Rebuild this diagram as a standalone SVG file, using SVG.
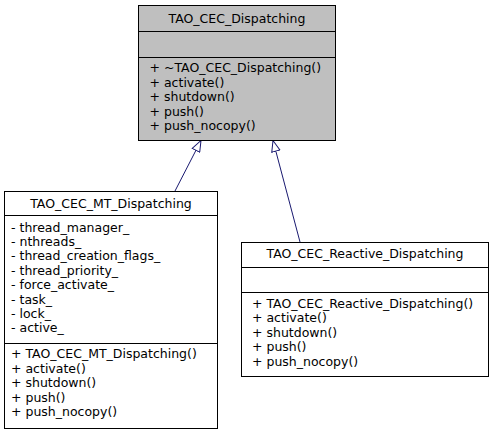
<svg xmlns="http://www.w3.org/2000/svg" width="492" height="435" viewBox="0 0 492 435">
<style>
text{font-family:"DejaVu Sans",sans-serif;font-size:12.5px;fill:#000}
.c{text-anchor:middle}
.box{stroke:#000;stroke-width:1;fill:#fff}
.gray{fill:#bfbfbf}
.edge{stroke:#191970;stroke-width:1;fill:none}
</style>
<defs>
<marker id="tri" viewBox="0 0 12 10" refX="11.5" refY="5" markerWidth="12" markerHeight="10" markerUnits="userSpaceOnUse" orient="auto">
<path d="M0.5,0.8 L11.5,5 L0.5,9.2 Z" fill="#fff" stroke="#191970" stroke-width="1"/>
</marker>
</defs>
<rect width="492" height="435" fill="#fff"/>
<g id="connectors">
<line class="edge" x1="175" y1="191" x2="201" y2="140.5" marker-end="url(#tri)"/>
<line class="edge" x1="300" y1="242" x2="273" y2="140.5" marker-end="url(#tri)"/>
</g>
<g id="TAO_CEC_Dispatching">
<rect class="box gray" x="138.5" y="5.5" width="197" height="135"/>
<line class="box" x1="138.5" y1="31.5" x2="335.5" y2="31.5"/>
<line class="box" x1="138.5" y1="57.5" x2="335.5" y2="57.5"/>
<text class="c" x="237" y="23">TAO_CEC_Dispatching</text>
<text x="149.5" y="72">+ ~TAO_CEC_Dispatching()</text>
<text x="149.5" y="86.5">+ activate()</text>
<text x="149.5" y="101">+ shutdown()</text>
<text x="149.5" y="115.5">+ push()</text>
<text x="149.5" y="130">+ push_nocopy()</text>
</g>
<g id="TAO_CEC_MT_Dispatching">
<rect class="box" x="4.5" y="191.5" width="213" height="237"/>
<line class="box" x1="4.5" y1="215.5" x2="217.5" y2="215.5"/>
<line class="box" x1="4.5" y1="343.5" x2="217.5" y2="343.5"/>
<text class="c" x="111" y="208">TAO_CEC_MT_Dispatching</text>
<text x="11" y="231.5">- thread_manager_</text>
<text x="11" y="245.9">- nthreads_</text>
<text x="11" y="260.3">- thread_creation_flags_</text>
<text x="11" y="274.7">- thread_priority_</text>
<text x="11" y="289.1">- force_activate_</text>
<text x="11" y="303.5">- task_</text>
<text x="11" y="317.9">- lock_</text>
<text x="11" y="332.3">- active_</text>
<text x="11" y="358.3">+ TAO_CEC_MT_Dispatching()</text>
<text x="11" y="372.7">+ activate()</text>
<text x="11" y="387.1">+ shutdown()</text>
<text x="11" y="401.5">+ push()</text>
<text x="11" y="415.9">+ push_nocopy()</text>
</g>
<g id="TAO_CEC_Reactive_Dispatching">
<rect class="box" x="241.5" y="242.5" width="247" height="134"/>
<line class="box" x1="241.5" y1="267.5" x2="488.5" y2="267.5"/>
<line class="box" x1="241.5" y1="292.5" x2="488.5" y2="292.5"/>
<text class="c" x="365" y="258">TAO_CEC_Reactive_Dispatching</text>
<text x="252" y="308">+ TAO_CEC_Reactive_Dispatching()</text>
<text x="252" y="322.4">+ activate()</text>
<text x="252" y="336.8">+ shutdown()</text>
<text x="252" y="351.2">+ push()</text>
<text x="252" y="365.6">+ push_nocopy()</text>
</g>
</svg>
